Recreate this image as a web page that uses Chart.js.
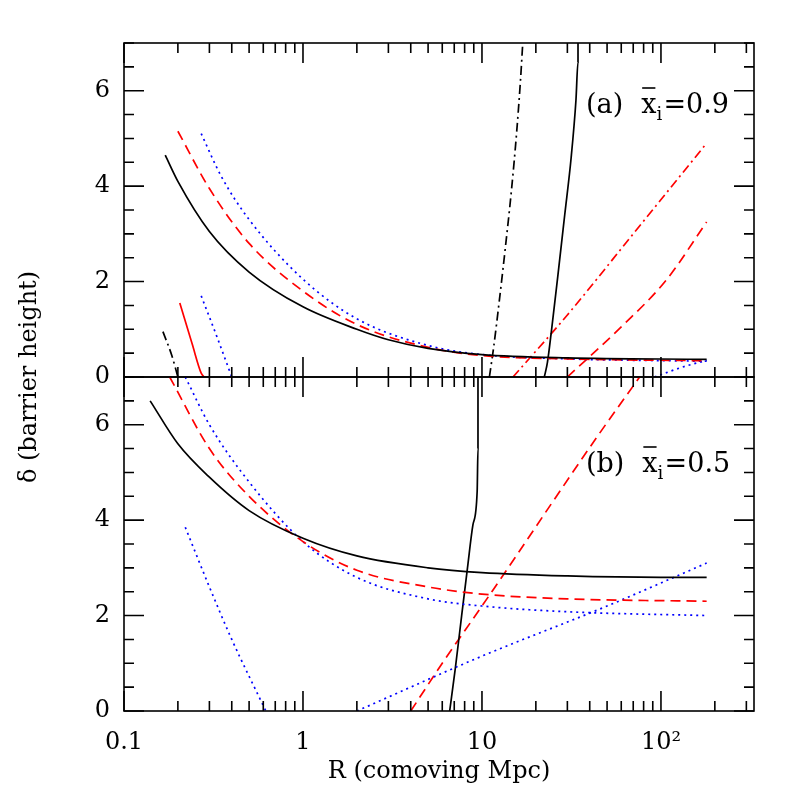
<!DOCTYPE html>
<html><head><meta charset="utf-8">
<script src="https://cdn.jsdelivr.net/npm/chart.js@4"></script>
<style>body{margin:0;background:#fff}canvas{position:absolute;left:0;top:0}</style>
</head><body>
<canvas id="c1" width="797" height="797"></canvas>
<canvas id="c2" width="797" height="797"></canvas>
<script>
// Panel (a) curves [R, delta]
const aBlackMain=[[0.17,4.65],[0.2,4.1],[0.3,3.05],[0.5,2.2],[1,1.47],[2,1.0],[3,0.78],[5,0.6],[10,0.47],[30,0.4],[180,0.37]];
const aRedDash=[[0.2,5.15],[0.3,3.95],[0.5,2.8],[1,1.8],[2,1.1],[5,0.62],[10,0.45],[30,0.38],[180,0.34]];
const aBlueDot=[[0.27,5.1],[0.35,4.2],[0.5,3.3],[1,2.05],[2,1.22],[5,0.66],[10,0.47],[30,0.38],[180,0.33]];
const aBlackDashDotShort=[[0.165,0.95],[0.185,0.45],[0.2,0]];
const aRedSolidShort=[[0.205,1.55],[0.24,0.7],[0.27,0.08],[0.28,0]];
const aBlueDotShort=[[0.27,1.7],[0.33,0.85],[0.4,0]];
const aBlackDashDotSteep=[[11,0],[11.6,0.6],[12.5,1.6],[13.5,2.7],[14.6,3.9],[15.6,5.1],[16.4,6.2],[16.9,7]];
const aBlackSolidSteep=[[22.3,0],[23.2,0.3],[24.5,1.0],[26.5,2.1],[29,3.4],[31.5,4.6],[33.5,5.8],[34.4,6.6],[34.4,7]];
const aRedDashDotRise=[[14.9,0],[30,1.3],[70,3.0],[180,4.9]];
const aRedDashRise=[[30,0],[60,1.05],[107,2.03],[180,3.25]];
const aBlueDotRise=[[92,0],[130,0.2],[180,0.35]];
// Panel (b) curves
const bBlackMain=[[0.14,6.5],[0.2,5.6],[0.3,4.9],[0.5,4.2],[1,3.62],[2,3.25],[5,3.0],[10,2.9],[30,2.83],[100,2.8],[180,2.8]];
const bRedDash=[[0.18,7],[0.3,5.5],[0.5,4.5],[1,3.55],[2,2.95],[5,2.6],[10,2.45],[30,2.35],[180,2.3]];
const bBlueDot=[[0.22,7],[0.3,6.0],[0.5,4.8],[1,3.55],[2,2.8],[5,2.35],[10,2.2],[30,2.08],[180,2.0]];
const bBlueDotShort=[[0.22,3.85],[0.3,2.6],[0.4,1.5],[0.62,0]];
const bBlueDotRise=[[2,0],[10,1.15],[50,2.2],[180,3.1]];
const bBlackSolidSteep=[[6.6,0],[7.1,0.9],[7.7,2.0],[8.3,3.0],[8.9,3.9],[9.4,4.6],[9.5,5.5],[9.5,7]];
const bRedDashSteep=[[4,0],[6,1.0],[10,2.2],[14,3.0],[25,4.4],[45,5.8],[76,7]];

const xTickVals=[0.1,1,10,100];
const xTickLabels=['0.1','1','10','10²'];
const yTickVals=[0,2,4,6];

const L=124,R=754,T=43,M=377,B=711;
const K='#000',RED='#ff0000',BLU='#0000ff';
const SOL=[],DSH=[10,6],DOT=[2,4],DD=[9,4,2,4];
function ds(d,c,dash,t){return {data:d.map(p=>({x:p[0],y:p[1]})),borderColor:c,borderDash:dash,borderWidth:1.7,pointRadius:0,fill:false,tension:t===undefined?0.3:t,cubicInterpolationMode:'monotone'};}

function frame(isTop){return {id:'frame',afterDraw(ch){
  const g=ch.ctx,xs=ch.scales.x,ys=ch.scales.y,a=ch.chartArea;
  g.save();g.strokeStyle='#000';g.lineWidth=1.6;g.setLineDash([]);
  g.strokeRect(a.left,a.top,a.right-a.left,a.bottom-a.top);
  for(let e=-1;e<=2;e++)for(let m=1;m<=9;m++){const v=m*Math.pow(10,e);if(v>331)continue;
    const px=xs.getPixelForValue(v),len=m===1?20:10;
    g.beginPath();g.moveTo(px,a.top);g.lineTo(px,a.top+len);g.moveTo(px,a.bottom);g.lineTo(px,a.bottom-len);g.stroke();}
  for(let v=0;v<=7;v+=0.5){const py=ys.getPixelForValue(v),len=(v%2===0)?20:10;
    g.beginPath();g.moveTo(a.left,py);g.lineTo(a.left+len,py);g.moveTo(a.right,py);g.lineTo(a.right-len,py);g.stroke();}
  g.fillStyle='#000';g.font='24px "DejaVu Serif"';g.textAlign='right';g.textBaseline='middle';
  yTickVals.forEach(v=>g.fillText(String(v),a.left-14,ys.getPixelForValue(v)));
  if(!isTop){g.textAlign='center';g.textBaseline='top';
    xTickVals.forEach((v,i)=>g.fillText(xTickLabels[i],xs.getPixelForValue(v),a.bottom+20));
    g.fillText('R (comoving Mpc)',(L+R)/2,760);
    g.save();g.translate(30,M);g.rotate(-Math.PI/2);g.textBaseline='middle';g.fillText('δ (barrier height)',0,0);g.restore();}
  const lab=isTop?'(a)':'(b)',val=isTop?'0.9':'0.5',by=isTop?113:472;
  g.font='27px "DejaVu Serif"';g.textAlign='left';g.textBaseline='alphabetic';
  let x0=586;g.fillText(lab,x0,by);x0+=g.measureText(lab).width+18;
  g.fillText('x',x0,by);const w=g.measureText('x').width;
  g.beginPath();g.lineWidth=1.6;g.moveTo(x0+1,by-25);g.lineTo(x0+w-1,by-25);g.stroke();
  g.font='18px "DejaVu Serif"';g.fillText('i',x0+w,by+7);
  g.font='27px "DejaVu Serif"';g.fillText('=',x0+w+7,by);g.fillText(val,x0+w+7+g.measureText('=').width,by);
  g.restore();}};}

function make(id,sets,isTop){
  new Chart(document.getElementById(id),{type:'line',data:{datasets:sets},
   options:{responsive:false,animation:false,
    layout:{padding:isTop?{left:L,right:797-R,top:T,bottom:797-M}:{left:L,right:797-R,top:M,bottom:797-B}},
    plugins:{legend:{display:false},tooltip:{enabled:false}},
    scales:{x:{type:'logarithmic',min:0.1,max:331,display:false},y:{type:'linear',min:0,max:7,display:false}}},
   plugins:[frame(isTop)]});}

make('c1',[ds(aBlackMain,K,SOL),ds(aRedDash,RED,DSH),ds(aBlueDot,BLU,DOT),ds(aBlackDashDotShort,K,DD,0),ds(aRedSolidShort,RED,SOL,0),ds(aBlueDotShort,BLU,DOT,0),ds(aBlackDashDotSteep,K,DD,0),ds(aBlackSolidSteep,K,SOL,0),ds(aRedDashDotRise,RED,DD),ds(aRedDashRise,RED,DSH),ds(aBlueDotRise,BLU,DOT,0)],true);
make('c2',[ds(bBlackMain,K,SOL),ds(bRedDash,RED,DSH),ds(bBlueDot,BLU,DOT),ds(bBlueDotShort,BLU,DOT),ds(bBlueDotRise,BLU,DOT),ds(bBlackSolidSteep,K,SOL,0),ds(bRedDashSteep,RED,DSH,0)],false);
</script></body></html>
